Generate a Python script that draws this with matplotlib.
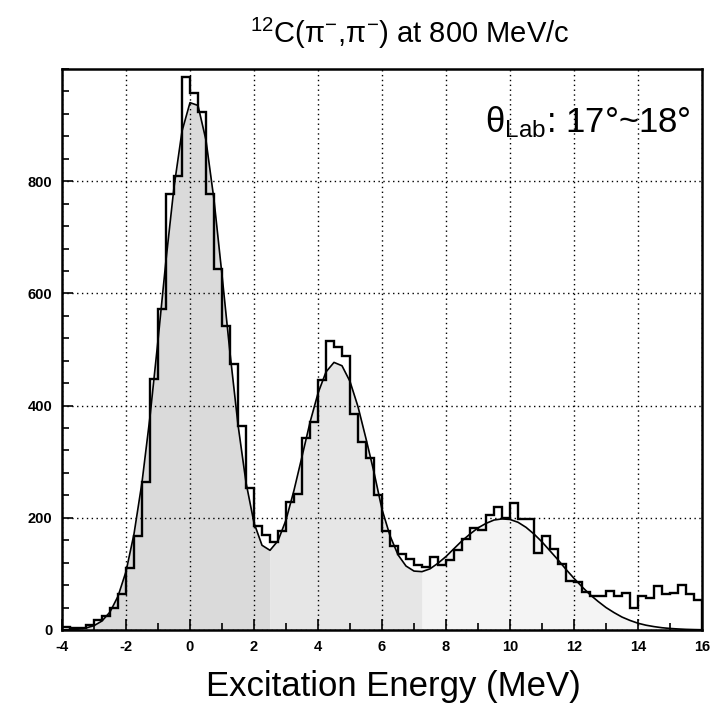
import numpy as np
import matplotlib
matplotlib.use('Agg')
import matplotlib.pyplot as plt

plt.rcParams['font.family'] = ['Liberation Sans', 'DejaVu Sans']
plt.rcParams['mathtext.fontset'] = 'custom'
plt.rcParams['mathtext.rm'] = 'Liberation Sans'
plt.rcParams['mathtext.it'] = 'Liberation Sans:italic'

# histogram: 0.25 MeV bins from -4 to 16 MeV
bin_edges = np.linspace(-4, 16, 81)
counts = [5, 3, 3, 9, 17, 25, 39, 64, 110, 168,
          264, 447, 572, 777, 809, 985, 957, 923, 777, 643,
          542, 474, 364, 253, 185, 170, 157, 176, 228, 242,
          343, 370, 445, 516, 504, 488, 385, 335, 306, 240,
          177, 150, 135, 127, 116, 112, 130, 115, 124, 142,
          163, 181, 178, 205, 220, 199, 227, 197, 198, 137,
          167, 145, 117, 88, 85, 67, 61, 61, 70, 60,
          66, 39, 61, 57, 78, 65, 66, 81, 65, 54]

# fitted curve, read every 0.25 MeV
fit_e = np.linspace(-4, 16, 81)
fit_y = [0.2, 0.6, 1.5, 3.5, 7.7, 16, 32, 60, 104, 171,
         263, 380, 516, 659, 789, 889, 940, 935, 873, 767,
         633, 494, 366, 263, 191, 151, 142, 159, 196, 249,
         309, 370, 422, 460, 477, 471, 443, 398, 341, 281,
         215, 168, 134, 114, 105, 104, 109, 119, 131, 145,
         159, 171, 182, 190, 196, 198, 197, 192, 183, 171,
         157, 141, 125, 108, 92, 77, 63, 51, 40, 31,
         23, 17, 12, 8.5, 6, 4, 2.7, 1.8, 1.1, 0.7, 0.4]
fit_y = np.array(fit_y)

fig = plt.figure(figsize=(7.19, 7.12), dpi=100)
ax = fig.add_axes([0.0862, 0.1152, 0.8902, 0.7879])

# shaded area under the fit (darker for the ground state)
ax.fill_between(fit_e, fit_y, where=fit_e <= 2.5, color='#dadada', lw=0)
ax.fill_between(fit_e, fit_y, where=(fit_e >= 2.5) & (fit_e <= 7.25), color='#e6e6e6', lw=0)
ax.fill_between(fit_e, fit_y, where=fit_e >= 7.25, color='#f4f4f4', lw=0)

ax.stairs(counts, bin_edges, color='black', lw=1.7)
ax.plot(fit_e, fit_y, color='black', lw=1.2)

ax.set_xlim(-4, 16)
ax.set_ylim(0, 1000)
ax.set_xticks(np.arange(-4, 17, 2))
ax.set_xticks(np.arange(-4, 17, 1), minor=True)
ax.set_yticks([0, 200, 400, 600, 800])
ax.set_yticks(np.arange(0, 1001, 40), minor=True)
ax.set_xticklabels(['-4', '-2', '0', '2', '4', '6', '8', '10', '12', '14', '16'])
ax.grid(True, which='major', color='black', linestyle=(0, (1, 2.5)), lw=1.0)
ax.tick_params(which='both', direction='in', top=False, right=False, width=1.2)
ax.tick_params(which='major', length=8, labelsize=10.5, pad=7)
ax.tick_params(which='minor', length=5)
for lab in ax.get_xticklabels() + ax.get_yticklabels():
    lab.set_fontweight('bold')
for sp in ax.spines.values():
    sp.set_linewidth(1.8)

fig.text(410 / 719, 1 - 33 / 712, r'$^{12}$C($\mathrm{π}^{-}$,$\mathrm{π}^{-}$) at 800 MeV/c',
         ha='center', va='center', fontsize=21)
ax.set_xlabel('Excitation Energy (MeV)', fontsize=25)
ax.xaxis.set_label_coords((393 - 62) / 640, -0.071)
ax.text(0.983, 0.888, r'$\mathrm{θ}_{\mathrm{Lab}}$: 17°~18°', transform=ax.transAxes,
        ha='right', va='baseline', fontsize=25)

fig.savefig('out.png', dpi=100)
